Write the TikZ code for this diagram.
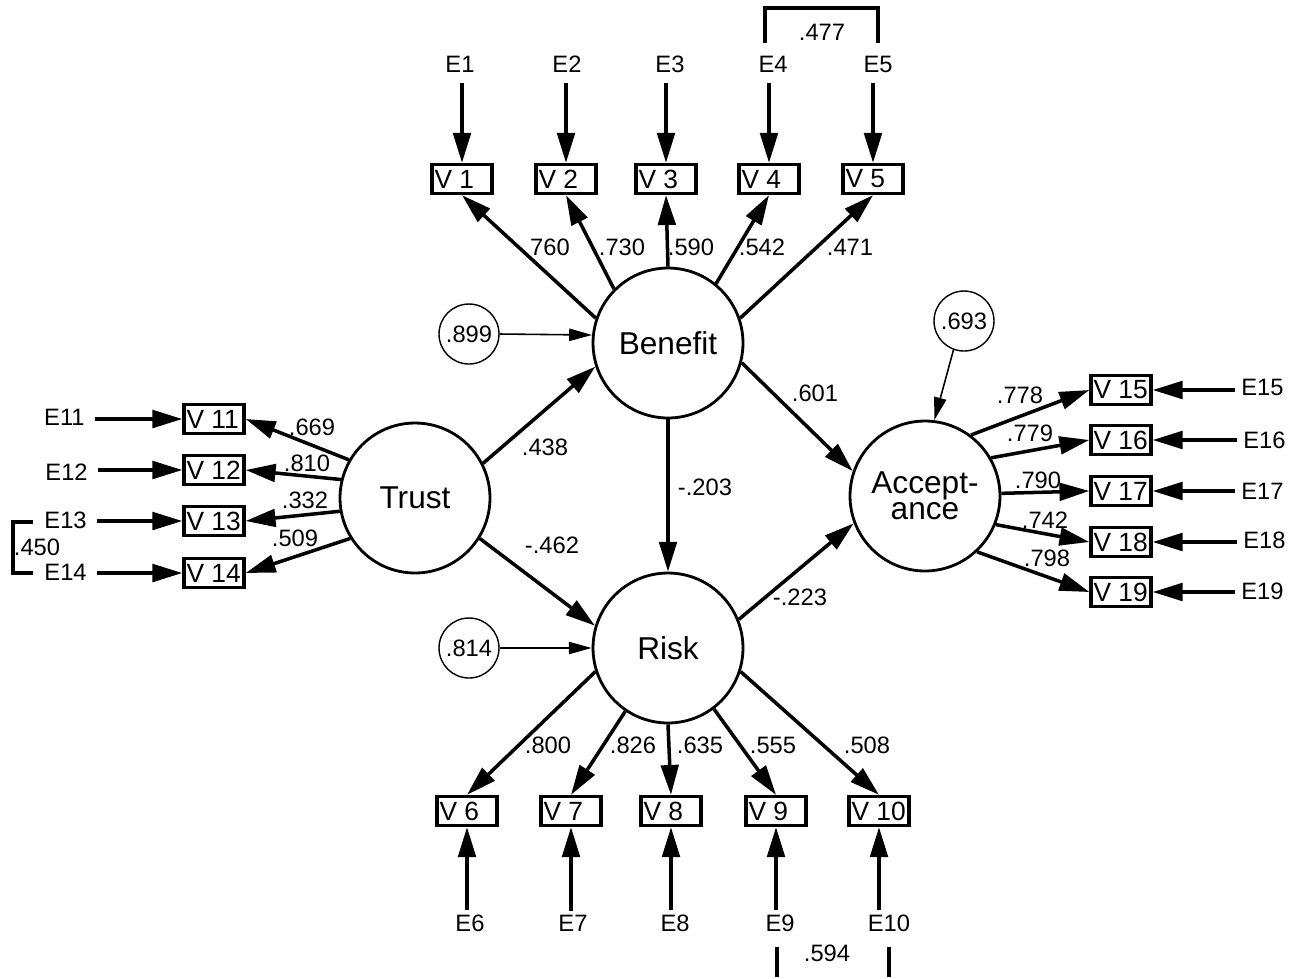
\documentclass[tikz,border=0pt]{standalone}
\usepackage{fontspec}
\setmainfont{Liberation Sans}
\usetikzlibrary{arrows.meta}
% fixed-width, left-aligned label inside an indicator box
\newcommand\obslabel[1]{\makebox[1.1cm][l]{#1}}
\begin{document}
\begin{tikzpicture}[x=0.02cm,y=-0.02cm,
  latent/.style={circle,draw,line width=1.6pt,minimum size=3cm,inner sep=0pt,
    font=\fontsize{18}{15}\selectfont,align=center},
  resid/.style={circle,draw,line width=0.8pt,minimum size=1.2cm,inner sep=0pt,
    font=\fontsize{13.5}{15}\selectfont},
  obs/.style={draw,line width=1.9pt,minimum width=1.2cm,minimum height=0.58cm,
    inner sep=0pt,font=\fontsize{15}{17}\selectfont},
  elab/.style={inner sep=0pt,font=\fontsize{13.5}{15}\selectfont},
  coef/.style={inner sep=0pt,font=\fontsize{13.5}{15}\selectfont},
  heavy/.style={line width=2pt,-{Triangle[length=17pt,width=10pt]}},
  light/.style={line width=0.9pt,-{Triangle[length=13pt,width=7pt]}},
  bracket/.style={line width=1.9pt}
]
\fill[white] (0,0) rectangle (1299,977);

% latent constructs
\node[latent] (B) at (668,343) {Benefit};
\node[latent] (R) at (668,648) {Risk};
\node[latent] (T) at (415,498) {Trust};
\node[latent] (A) at (925,496) {Accept-\\ance};

% disturbances
\node[resid] (d1) at (469,334) {.899};
\node[resid] (d2) at (469,648) {.814};
\node[resid] (d3) at (964,321) {.693};
\draw[light] (d1.east) -- (B.174);
\draw[light] (d2.east) -- (R.west);
\draw[light] (d3.-110) -- (A.83);

% structural paths
\draw[heavy] (T.27) -- (B.198);
\draw[heavy] (T.-32) -- (R.163);
\draw[heavy] (B.south) -- (R.north);
\draw[heavy] (B.-15) -- (A.161);
\draw[heavy] (R.22) -- (A.201);
\node[coef] at (545,447) {.438};
\node[coef] at (552,545) {-.462};
\node[coef] at (705,487) {-.203};
\node[coef] at (815,393) {.601};
\node[coef] at (800,597) {-.223};

% Benefit indicators
\node[obs] (V1) at (462,179) {\obslabel{V 1}};
\node[obs] (V2) at (566,179) {\obslabel{V 2}};
\node[obs] (V3) at (666,179) {\obslabel{V 3}};
\node[obs] (V4) at (769,179) {\obslabel{V 4}};
\node[obs] (V5) at (873,179) {\obslabel{V 5}};
\node[elab] (E1) at (460,64) {E1};
\node[elab] (E2) at (567,64) {E2};
\node[elab] (E3) at (670,64) {E3};
\node[elab] (E4) at (773,64) {E4};
\node[elab] (E5) at (878,64) {E5};
\foreach \i in {1,...,5}
  \draw[heavy,shorten <=0.2cm] (V\i.north |- E\i.south) -- (V\i.north);
\draw[heavy] (B.161) -- (V1.south);
\draw[heavy] (B.135) -- (V2.south);
\draw[heavy] (B.90)  -- (V3.south);
\draw[heavy] (B.51)  -- (V4.south);
\draw[heavy] (B.19)  -- (V5.south);
\node[coef] at (550,247) {760};
\node[coef] at (622,247) {.730};
\node[coef] at (691,247) {.590};
\node[coef] at (762,247) {.542};
\node[coef] at (850,247) {.471};
\draw[bracket] (765,43) -- (765,8) -- (878,8) -- (878,43);
\node[coef] at (822,32) {.477};

% Risk indicators
\node[obs] (V6)  at (467,811) {\obslabel{V 6}};
\node[obs] (V7)  at (571,811) {\obslabel{V 7}};
\node[obs] (V8)  at (671,811) {\obslabel{V 8}};
\node[obs] (V9)  at (776,811) {\obslabel{V 9}};
\node[obs] (V10) at (879,811) {\obslabel{V 10}};
\node[elab] (E6)  at (470,923) {E6};
\node[elab] (E7)  at (573,923) {E7};
\node[elab] (E8)  at (675,923) {E8};
\node[elab] (E9)  at (780,923) {E9};
\node[elab] (E10) at (889,923) {E10};
\foreach \i in {6,...,10}
  \draw[heavy,shorten <=0.08cm] (V\i.south |- E\i.north) -- (V\i.south);
\draw[heavy] (R.-162) -- (V6.north);
\draw[heavy] (R.-124) -- (V7.north);
\draw[heavy] (R.-90)  -- (V8.north);
\draw[heavy] (R.-53)  -- (V9.north);
\draw[heavy] (R.-18)  -- (V10.north);
\node[coef] at (548,745) {.800};
\node[coef] at (633,745) {.826};
\node[coef] at (700,745) {.635};
\node[coef] at (773,745) {.555};
\node[coef] at (867,745) {.508};
\draw[bracket] (777,947) -- (777,977);
\draw[bracket] (889,947) -- (889,977);
\node[coef] at (827,953) {.594};

% Trust indicators
\node[obs] (V11) at (214,419) {\obslabel{V 11}};
\node[obs] (V12) at (214,470) {\obslabel{V 12}};
\node[obs] (V13) at (214,521) {\obslabel{V 13}};
\node[obs] (V14) at (214,573) {\obslabel{V 14}};
\node[elab,anchor=east] (E11) at (85,417) {E11};
\node[elab,anchor=east] (E12) at (88,472) {E12};
\node[elab,anchor=east] (E13) at (87,520) {E13};
\node[elab,anchor=east] (E14) at (87,572) {E14};
\foreach \i in {11,...,14}
  \draw[heavy,shorten <=0.2cm] (E\i.east |- V\i.west) -- (V\i.west);
\draw[heavy] (T.150) -- (V11.east);
\draw[heavy] (T.166) -- (V12.east);
\draw[heavy] (T.190) -- (V13.east);
\draw[heavy] (T.212) -- (V14.east);
\node[coef] at (312,427) {.669};
\node[coef] at (307,463) {.810};
\node[coef] at (305,500) {.332};
\node[coef] at (295,538) {.509};
\draw[bracket] (33,522) -- (13,522) -- (13,573) -- (33,573);
\node[coef] at (37,547) {.450};

% Acceptance indicators
\node[obs] (V15) at (1121,390) {\obslabel{V 15}};
\node[obs] (V16) at (1121,440) {\obslabel{V 16}};
\node[obs] (V17) at (1121,491) {\obslabel{V 17}};
\node[obs] (V18) at (1121,542) {\obslabel{V 18}};
\node[obs] (V19) at (1121,592) {\obslabel{V 19}};
\node[elab,anchor=west] (E15) at (1241,387) {E15};
\node[elab,anchor=west] (E16) at (1243,440) {E16};
\node[elab,anchor=west] (E17) at (1241,491) {E17};
\node[elab,anchor=west] (E18) at (1243,540) {E18};
\node[elab,anchor=west] (E19) at (1241,591) {E19};
\foreach \i in {15,...,19}
  \draw[heavy,shorten <=0.12cm] (E\i.west |- V\i.east) -- (V\i.east);
\draw[heavy] (A.53)  -- (V15.west);
\draw[heavy] (A.30)  -- (V16.west);
\draw[heavy] (A.2)   -- (V17.west);
\draw[heavy] (A.-22) -- (V18.west);
\draw[heavy] (A.-47) -- (V19.west);
\node[coef] at (1020,395) {.778};
\node[coef] at (1030,433) {.779};
\node[coef] at (1038,480) {.790};
\node[coef] at (1045,520) {.742};
\node[coef] at (1047,558) {.798};
\end{tikzpicture}
\end{document}
